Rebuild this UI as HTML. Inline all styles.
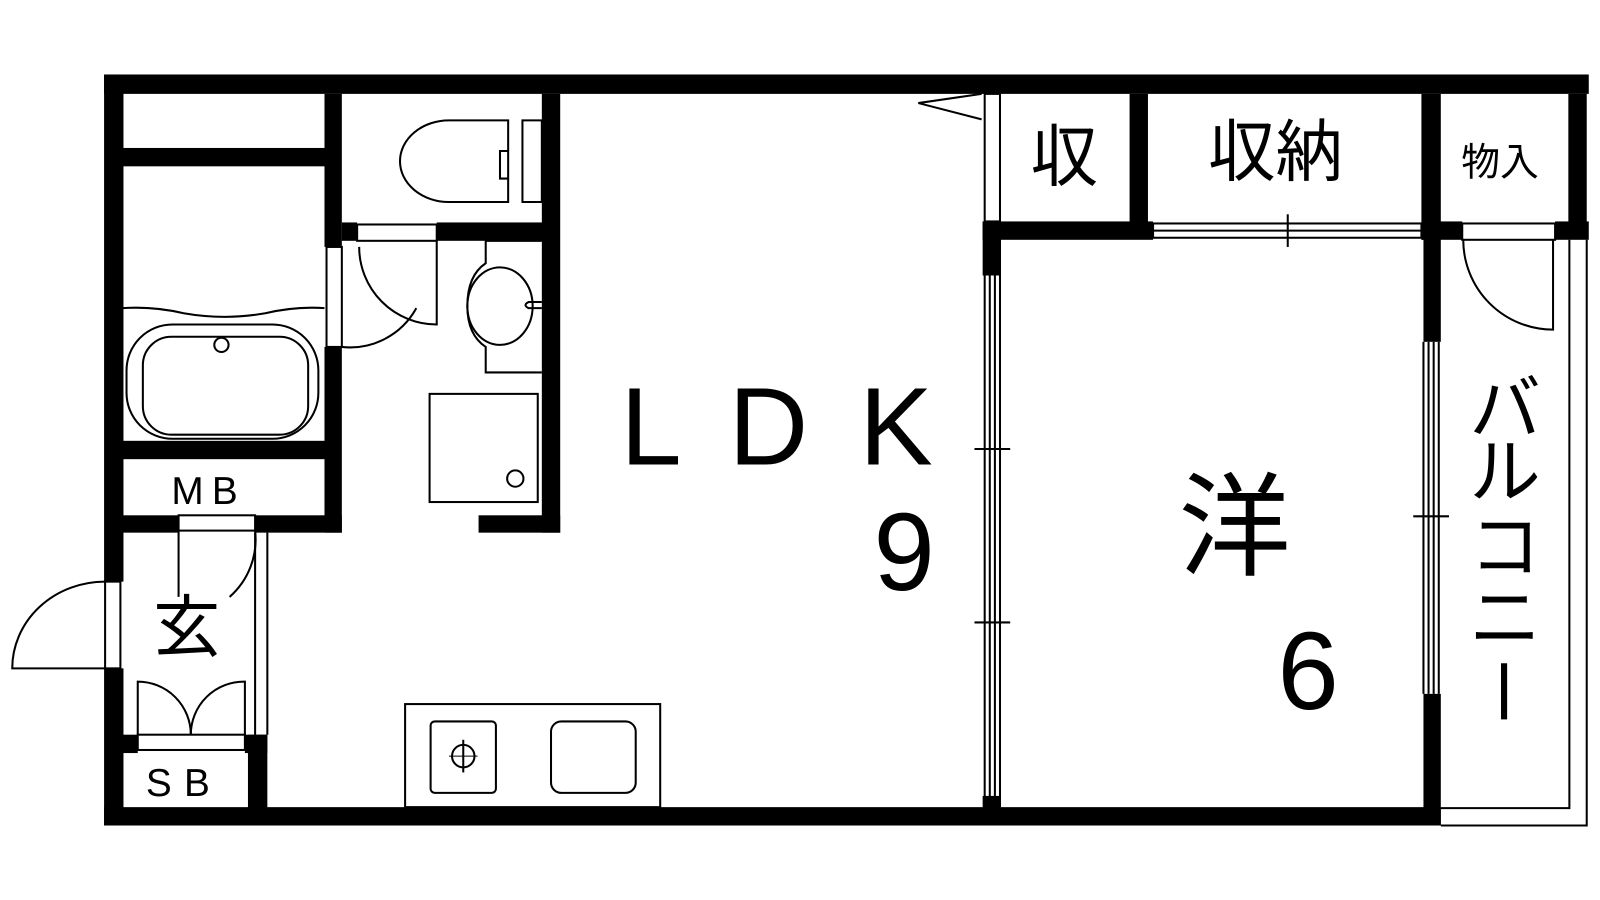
<!DOCTYPE html>
<html><head><meta charset="utf-8"><style>
html,body{margin:0;padding:0;background:#fff;width:1600px;height:900px;overflow:hidden}
svg{display:block}
text{font-family:"Liberation Sans","Noto Sans CJK JP",sans-serif;fill:#000}
</style></head><body>
<svg width="1600" height="900" viewBox="0 0 1600 900" xmlns="http://www.w3.org/2000/svg">
<g transform="scale(1.0204)">
<g fill="#000">
<rect x="102" y="73" width="1455" height="19"/>
<rect x="102" y="73" width="19" height="497"/>
<rect x="102" y="655" width="19" height="154"/>
<rect x="102" y="791" width="1310" height="18"/>
<rect x="120" y="145" width="200" height="18"/>
<rect x="318" y="92" width="17" height="150"/>
<rect x="318" y="340" width="17" height="182"/>
<rect x="120" y="432" width="200" height="18"/>
<rect x="120" y="505" width="55" height="17"/>
<rect x="250" y="505" width="85" height="17"/>
<rect x="335" y="218" width="15" height="18"/>
<rect x="428" y="218" width="105" height="18"/>
<rect x="531" y="92" width="18" height="430"/>
<rect x="469" y="505" width="80" height="17"/>
<rect x="120" y="720" width="15" height="18"/>
<rect x="240" y="720" width="22" height="18"/>
<rect x="243" y="720" width="19" height="75"/>
<rect x="963" y="217" width="167" height="18"/>
<rect x="963" y="217" width="18" height="53"/>
<rect x="1107" y="92" width="18" height="130"/>
<rect x="1393" y="92" width="19" height="143"/>
<rect x="1393" y="217" width="40" height="18"/>
<rect x="1395" y="217" width="17" height="118"/>
<rect x="1395" y="680" width="17" height="129"/>
<rect x="1524" y="217" width="33" height="18"/>
<rect x="1537" y="92" width="18" height="135"/>
<rect x="963" y="780" width="17" height="20"/>
</g>
<g fill="none" stroke="#000" stroke-width="2">
<rect x="103" y="570" width="15" height="85"/>
<path d="M103 570 A91 85 0 0 0 12 655 L103 655"/>
<rect x="175" y="505" width="75" height="15"/>
<line x1="175" y1="520" x2="175" y2="585"/>
<path d="M250 520 A75 75 0 0 1 225 585"/>
<line x1="250" y1="522" x2="250" y2="720"/>
<line x1="262" y1="522" x2="262" y2="720"/>
<rect x="135" y="720" width="105" height="15"/>
<path d="M135 720 L135 668 A52 52 0 0 1 187 720"/>
<path d="M240 720 L240 668 A52 52 0 0 0 187 720"/>
<rect x="320" y="242" width="15" height="98"/>
<rect x="350" y="220" width="78" height="16"/>
<path d="M335 340 A74 74 0 0 0 408 302"/>
<path d="M428 236 L428 318 A76 76 0 0 1 352 242"/>
<path d="M120 302 Q150 300 180 307 Q220 314 260 307 Q290 300 318 302"/>
<rect x="124" y="318" width="188" height="112" rx="45"/>
<rect x="140" y="330" width="162" height="96" rx="28"/>
<circle cx="217" cy="338" r="7"/>
<path d="M498 118 L440 118 A48 40 0 0 0 440 198 L498 198 Z"/>
<path d="M498 148 H490 V175 H498"/>
<path d="M512 118 H531 V198 H512 Z"/>
<path d="M531 236 H476 V258 Q458 270 458 300 Q458 328 476 340 V365 H531"/>
<ellipse cx="490" cy="300" rx="32" ry="38"/>
<path d="M531 296 H518 Q512 299 518 302 H531"/>
<rect x="421" y="386" width="106" height="106"/>
<circle cx="505" cy="469" r="8"/>
<rect x="397" y="690" width="250" height="101"/>
<rect x="422" y="707" width="64" height="70" rx="4"/>
<circle cx="454" cy="741" r="11"/>
<line x1="454" y1="725" x2="454" y2="757"/>
<line x1="440" y1="741" x2="468" y2="741" stroke-width="1"/>
<rect x="540" y="707" width="83" height="70" rx="10"/>
<path d="M962 92 L900 101 L962 117"/>
<rect x="965" y="92" width="15" height="125"/>
<line x1="965" y1="270" x2="965" y2="791"/>
<line x1="970" y1="270" x2="970" y2="791"/>
<line x1="975" y1="270" x2="975" y2="791"/>
<line x1="980" y1="270" x2="980" y2="791"/>
<line x1="955" y1="440" x2="990" y2="440"/>
<line x1="955" y1="610" x2="990" y2="610"/>
<rect x="1130" y="219" width="263" height="14"/>
<line x1="1130" y1="226" x2="1393" y2="226"/>
<line x1="1262" y1="210" x2="1262" y2="242"/>
<rect x="1433" y="219" width="91" height="16"/>
<path d="M1434 235 A88 88 0 0 0 1522 323 L1522 235"/>
<path d="M1412 792 H1538 V235"/>
<path d="M1412 809 H1555 V235"/>
<line x1="1395" y1="335" x2="1395" y2="680"/>
<line x1="1400" y1="335" x2="1400" y2="680"/>
<line x1="1405" y1="335" x2="1405" y2="680"/>
<line x1="1410" y1="335" x2="1410" y2="680"/>
<line x1="1385" y1="506" x2="1420" y2="506"/>
</g>
<text x="608" y="455" font-size="108" letter-spacing="10">L D K</text>
<text x="856" y="578" font-size="108">9</text>
<text x="1155" y="555" font-size="110">洋</text>
<text x="1252" y="695" font-size="108">6</text>
<text x="1010" y="177" font-size="66">収</text>
<text x="1184" y="172" font-size="66">収納</text>
<text x="1432" y="172" font-size="38">物入</text>
<text x="168" y="494" font-size="38" letter-spacing="8">MB</text>
<text x="143" y="780" font-size="38" letter-spacing="12">SB</text>
<text x="150" y="638" font-size="66">玄</text>
<g font-size="70">
<text x="1440" y="425">バ</text>
<text x="1440" y="487">ル</text>
<text x="1440" y="560">コ</text>
<text x="1440" y="630">ニ</text>
</g>
<rect x="1471" y="650" width="6" height="55" fill="#000"/>
</g>
</svg>
</body></html>
